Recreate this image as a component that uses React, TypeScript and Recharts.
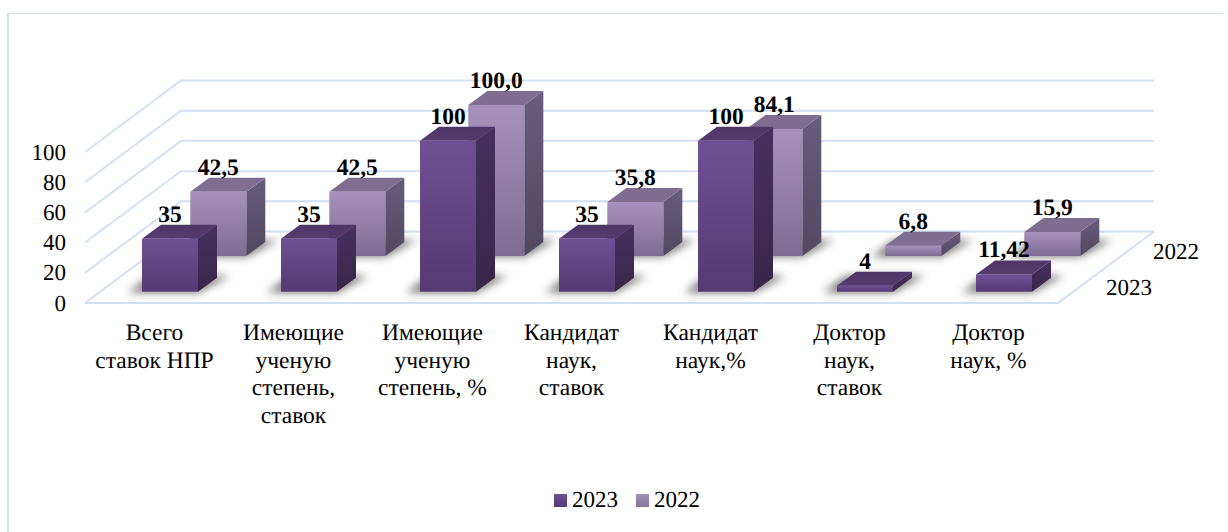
import React from "react";
import { ComposedChart, Bar, XAxis, YAxis, LabelList, CartesianGrid } from "recharts";

const categories = [
  "Всего\nставок НПР",
  "Имеющие\nученую\nстепень,\nставок",
  "Имеющие\nученую\nстепень, %",
  "Кандидат\nнаук,\nставок",
  "Кандидат\nнаук,%",
  "Доктор\nнаук,\nставок",
  "Доктор\nнаук, %",
];
const values2023 = [35, 35, 100, 35, 100, 4, 11.42];
const labels2023 = ["35", "35", "100", "35", "100", "4", "11,42"];
const values2022 = [42.5, 42.5, 100, 35.8, 84.1, 6.8, 15.9];
const labels2022 = ["42,5", "42,5", "100,0", "35,8", "84,1", "6,8", "15,9"];
const yTicks = [0, 20, 40, 60, 80, 100];
const series = ["2023", "2022"];

const data = categories.map((name, i) => ({
  name,
  v2023: values2023[i],
  v2022: values2022[i],
  l2023: labels2023[i],
  l2022: labels2022[i],
}));

const FONT = "'Liberation Serif', serif";
const GRID = "#d0dff1";
const PLOT = { left: 85, right: 1058, top: 152, bottom: 303 };
const WALL_DX = 96;
const WALL_DY = -71.5;
const OFFSET_2023 = { dx: 15, dy: -11.3 };
const OFFSET_2022 = { dx: 63.3, dy: -47 };
const DEPTH_DX = 19;
const DEPTH_DY = -14;
const PRECISE = { textRendering: "geometricPrecision" as const };

const Bar3D = (props: any) => {
  const { x, y, width, height, offset, id } = props;
  const fx = x + offset.dx;
  const fy = y + offset.dy;
  const base = fy + height;
  const r = fx + width;
  const tx = DEPTH_DX;
  const ty = DEPTH_DY;
  return (
    <g>
      <polygon
        points={`${fx - 14},${base + 1} ${r},${base + 1} ${r + 32},${base + ty - 2} ${fx + 8},${base + ty - 2}`}
        fill="#444444"
        opacity={0.7}
        filter="url(#floorShadow)"
      />
      <polygon
        points={`${r},${fy} ${r + tx},${fy + ty} ${r + tx},${base + ty} ${r},${base}`}
        fill={`url(#side${id})`}
      />
      <polygon
        points={`${fx},${fy} ${fx + tx},${fy + ty} ${r + tx},${fy + ty} ${r},${fy}`}
        fill={`url(#top${id})`}
      />
      <rect x={fx} y={fy} width={width} height={height} fill={`url(#front${id})`} />
    </g>
  );
};

const BarLabel = (props: any) => {
  const { x, y, width, value, offset2 } = props;
  return (
    <text
      x={x + width / 2 + offset2.dx}
      y={y + offset2.dy - 24}
      textAnchor="middle"
      dominantBaseline="central"
      fontFamily={FONT}
      fontSize={23.5}
      fontWeight={700}
      fill="#000"
      style={PRECISE}
    >
      {value}
    </text>
  );
};

const GridLine = (props: any) => {
  const { y1 } = props;
  const isFloor = Math.abs(y1 - PLOT.bottom) < 1;
  return (
    <g>
      <polyline
        points={`${PLOT.left},${y1} ${PLOT.left + WALL_DX},${y1 + WALL_DY} ${PLOT.right + WALL_DX},${y1 + WALL_DY}`}
        fill="none"
        stroke={GRID}
        strokeWidth={1.9}
      />
      {isFloor && (
        <polyline
          points={`${PLOT.left},${y1} ${PLOT.right},${y1} ${PLOT.right + WALL_DX},${y1 + WALL_DY}`}
          fill="none"
          stroke={GRID}
          strokeWidth={1.9}
        />
      )}
    </g>
  );
};

const YTick = (props: any) => {
  const { y, payload } = props;
  const isZero = payload.value === 0;
  return (
    <g style={PRECISE}>
      {isZero && (
        <text x={1106} y={y - 16} dominantBaseline="central" fontFamily={FONT} fontSize={23} fill="#000">
          {series[0]}
        </text>
      )}
      {isZero && (
        <text x={1153} y={y - 52} dominantBaseline="central" fontFamily={FONT} fontSize={23} fill="#000">
          {series[1]}
        </text>
      )}
      <text x={66} y={y} textAnchor="end" dominantBaseline="central" fontFamily={FONT} fontSize={23} fill="#000">
        {payload.value}
      </text>
    </g>
  );
};

const XTick = (props: any) => {
  const { x, payload } = props;
  const lines = String(payload.value).split("\n");
  return (
    <text textAnchor="middle" fontFamily={FONT} fontSize={23.5} fill="#000" style={PRECISE}>
      {lines.map((l, i) => (
        <tspan key={i} x={x} y={340 + i * 27.7}>
          {l}
        </tspan>
      ))}
    </text>
  );
};

const Legend3D = () => (
  <div
    style={{
      position: "absolute",
      left: 554,
      top: 487,
      display: "flex",
      alignItems: "center",
      fontFamily: FONT,
      fontSize: 23,
      lineHeight: "26px",
      color: "#000",
      ...PRECISE,
    }}
  >
    <span style={{ width: 13, height: 13, background: "linear-gradient(#6f4f94,#563a73)", marginRight: 5 }} />
    <span style={{ marginRight: 18 }}>{series[0]}</span>
    <span style={{ width: 13, height: 13, background: "linear-gradient(#a591bb,#85729a)", marginRight: 5 }} />
    <span>{series[1]}</span>
  </div>
);

export default function App() {
  return (
    <div style={{ position: "absolute", left: 0, top: 0, width: 1228, height: 532, background: "#fff", overflow: "hidden" }}>
      <div style={{ position: "absolute", left: 7, top: 13, width: 1214, height: 519, borderLeft: `2px solid ${GRID}`, borderTop: `1.5px solid ${GRID}` }} />
      <div style={{ position: "absolute", left: 0, top: 0 }}>
        <ComposedChart
          width={1228}
          height={532}
          data={data}
          barSize={56}
          barGap={-56}
          margin={{ left: 0, right: 1228 - PLOT.right, top: PLOT.top, bottom: 0 }}
        >
          <defs>
            <filter id="floorShadow" x="-30%" y="-60%" width="160%" height="220%">
              <feGaussianBlur stdDeviation="4" />
            </filter>
            <linearGradient id="front2023" x1="0" y1="0" x2="0" y2="1">
              <stop offset="0" stopColor="#705095" />
              <stop offset="1" stopColor="#553971" />
            </linearGradient>
            <linearGradient id="side2023" x1="0" y1="0" x2="0" y2="1">
              <stop offset="0" stopColor="#453060" />
              <stop offset="1" stopColor="#382749" />
            </linearGradient>
            <linearGradient id="top2023" x1="0" y1="0" x2="0" y2="1">
              <stop offset="0" stopColor="#4f3668" />
              <stop offset="1" stopColor="#553a6e" />
            </linearGradient>
            <linearGradient id="front2022" x1="0" y1="0" x2="0" y2="1">
              <stop offset="0" stopColor="#a591bb" />
              <stop offset="1" stopColor="#7f6c92" />
            </linearGradient>
            <linearGradient id="side2022" x1="0" y1="0" x2="0" y2="1">
              <stop offset="0" stopColor="#685c7c" />
              <stop offset="1" stopColor="#514860" />
            </linearGradient>
            <linearGradient id="top2022" x1="0" y1="0" x2="0" y2="1">
              <stop offset="0" stopColor="#7d6d8f" />
              <stop offset="1" stopColor="#7f6e91" />
            </linearGradient>
          </defs>
          <CartesianGrid vertical={false} horizontalValues={yTicks} horizontal={(p: any) => <GridLine key={p.key} {...p} />} />
          <XAxis
            dataKey="name"
            interval={0}
            axisLine={false}
            tickLine={false}
            tick={<XTick />}
            height={532 - PLOT.bottom}
          />
          <YAxis
            domain={[0, 100]}
            ticks={yTicks}
            interval={0}
            width={PLOT.left}
            axisLine={false}
            tickLine={false}
            tick={<YTick />}
          />
          <Bar
            dataKey="v2022"
            name={series[1]}
            isAnimationActive={false}
            shape={(p: any) => <Bar3D {...p} offset={OFFSET_2022} id="2022" />}
          >
            <LabelList dataKey="l2022" content={(p: any) => <BarLabel {...p} offset2={OFFSET_2022} />} />
          </Bar>
          <Bar
            dataKey="v2023"
            name={series[0]}
            isAnimationActive={false}
            shape={(p: any) => <Bar3D {...p} offset={OFFSET_2023} id="2023" />}
          >
            <LabelList dataKey="l2023" content={(p: any) => <BarLabel {...p} offset2={OFFSET_2023} />} />
          </Bar>
        </ComposedChart>
      </div>
      <Legend3D />
    </div>
  );
}
